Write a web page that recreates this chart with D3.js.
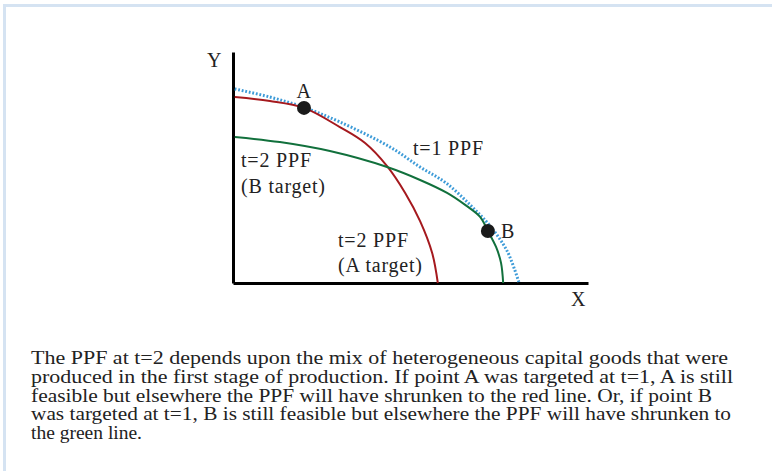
<!DOCTYPE html>
<html>
<head>
<meta charset="utf-8">
<script src="https://cdn.jsdelivr.net/npm/d3@7"></script>
<style>
  body { margin: 0; background: #fff; }
  svg { display: block; }
  .lbl { font-family: "Liberation Serif", serif; font-size: 20px; fill: #222; letter-spacing: 0.8px; }
  .para { font-family: "Liberation Serif", serif; font-size: 19.5px; fill: #222; }
</style>
</head>
<body>
<svg id="chart" width="772" height="471"></svg>
<script>
// curves, in axis units (0-100 on both axes)
const t1X = [0.5, 10.4, 19.7, 30.1, 44.2, 52.7, 60.0, 66.8, 72.4, 77.2, 80.6];
const t1Y = [84.0, 80.5, 76.2, 69.7, 58.9, 50.2, 43.3, 33.8, 24.7, 13.9, 0];

const redX = [0.5, 10.4, 20.0, 30.1, 37.2, 43.4, 48.5, 52.7, 56.1, 57.7];
const redY = [80.5, 78.8, 75.8, 67.5, 60.6, 50.6, 39.0, 26.8, 13.0, 0];

const greenX = [0.5, 13.2, 27.3, 43.4, 52.7, 60.3, 65.4, 69.6, 71.8, 74.1, 75.5, 76.1];
const greenY = [63.2, 61.0, 57.1, 50.2, 44.6, 39.0, 33.8, 28.6, 22.5, 15.6, 8.7, 0];

const pointNames = ["A", "B"];
const pointX = [20.0, 71.8];
const pointY = [75.8, 22.5];

const caption = [
    "The PPF at t=2 depends upon the mix of heterogeneous capital goods that were",
    "produced in the first stage of production. If point A was targeted at t=1, A is still",
    "feasible but elsewhere the PPF will have shrunken to the red line. Or, if point B",
    "was targeted at t=1, B is still feasible but elsewhere the PPF will have shrunken to",
    "the green line."
];
// widths of the full caption lines in the picture (last line left natural)
const captionWidths = [697, 702, 681, 700, null];

const svg = d3.select("#chart");

// light blue frame
svg.append("rect")
    .attr("x", 4.5)
    .attr("y", 5.5)
    .attr("width", 820)
    .attr("height", 520)
    .attr("fill", "none")
    .attr("stroke", "#d5e3f2")
    .attr("stroke-width", 3);

const x = d3.scaleLinear().domain([0, 100]).range([233, 588]);
const y = d3.scaleLinear().domain([0, 100]).range([283, 52]);

svg.append("g")
    .attr("transform", `translate(0,${y(0)})`)
    .call(d3.axisBottom(x).tickValues([]).tickSizeOuter(0))
    .call(g => g.select(".domain").attr("stroke", "#000").attr("stroke-width", 3));

svg.append("g")
    .attr("transform", `translate(${x(0)},0)`)
    .call(d3.axisLeft(y).tickValues([]).tickSizeOuter(0))
    .call(g => g.select(".domain").attr("stroke", "#000").attr("stroke-width", 3));

svg.append("text").attr("class", "lbl").attr("x", 207).attr("y", 67).text("Y");
svg.append("text").attr("class", "lbl").attr("x", 571).attr("y", 306).text("X");

const line = d3.line()
    .x(d => x(d[0]))
    .y(d => y(d[1]))
    .curve(d3.curveCatmullRom.alpha(0.5));

svg.append("path")
    .datum(t1X.map((v, i) => [v, t1Y[i]]))
    .attr("d", line)
    .attr("fill", "none")
    .attr("stroke", "#3d9bd8")
    .attr("stroke-width", 3)
    .attr("stroke-dasharray", "1.8,1.8");

svg.append("path")
    .datum(redX.map((v, i) => [v, redY[i]]))
    .attr("d", line)
    .attr("fill", "none")
    .attr("stroke", "#a5191e")
    .attr("stroke-width", 2);

svg.append("path")
    .datum(greenX.map((v, i) => [v, greenY[i]]))
    .attr("d", line)
    .attr("fill", "none")
    .attr("stroke", "#11703c")
    .attr("stroke-width", 2);

svg.selectAll(".pt")
    .data(pointNames)
    .enter()
    .append("circle")
    .attr("class", "pt")
    .attr("cx", (d, i) => x(pointX[i]))
    .attr("cy", (d, i) => y(pointY[i]))
    .attr("r", 7)
    .attr("fill", "#1a1a1a");

svg.append("text").attr("class", "lbl").attr("x", 304).attr("y", 98).style("text-anchor", "middle").text("A");
svg.append("text").attr("class", "lbl").attr("x", 501).attr("y", 238).text("B");

svg.append("text").attr("class", "lbl").attr("x", 413).attr("y", 155).text("t=1 PPF");
svg.append("text").attr("class", "lbl").attr("x", 241).attr("y", 167).text("t=2 PPF");
svg.append("text").attr("class", "lbl").attr("x", 241).attr("y", 193).text("(B target)");
svg.append("text").attr("class", "lbl").attr("x", 338).attr("y", 247).text("t=2 PPF");
svg.append("text").attr("class", "lbl").attr("x", 338).attr("y", 272).text("(A target)");

svg.selectAll(".para")
    .data(caption)
    .enter()
    .append("text")
    .attr("class", "para")
    .attr("x", 31)
    .attr("y", (d, i) => 364 + i * 18.8)
    .attr("textLength", (d, i) => captionWidths[i])
    .attr("lengthAdjust", "spacingAndGlyphs")
    .text(d => d);
</script>
</body>
</html>
